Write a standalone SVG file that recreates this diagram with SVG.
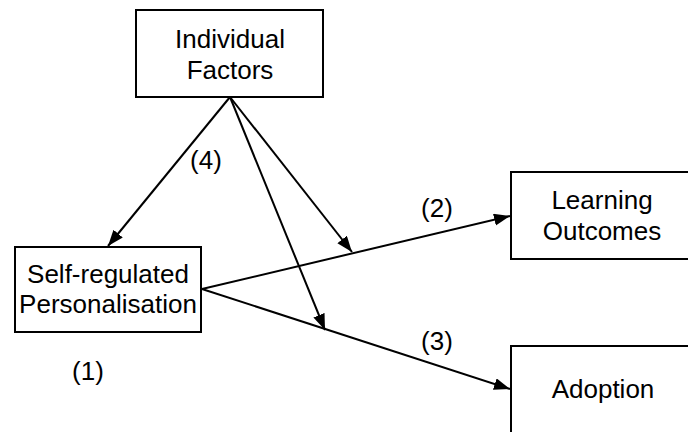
<svg xmlns="http://www.w3.org/2000/svg" width="688" height="432" viewBox="0 0 688 432">
<style>
.box{fill:#fff;stroke:#000;stroke-width:2}
.t{font-family:"Liberation Sans",Arial,sans-serif;font-size:26px;fill:#000;text-anchor:middle}
.c{stroke:#000;stroke-width:2;fill:none}
</style>
<defs>
<marker id="ah" markerUnits="userSpaceOnUse" markerWidth="18" markerHeight="14" refX="16" refY="6" orient="auto">
<path d="M0,0 L16,6 L0,12 z" fill="#000"/>
</marker>
</defs>
<rect width="688" height="432" fill="#fff"/>
<g id="connectors">
<line class="c" x1="230" y1="97" x2="108" y2="246" marker-end="url(#ah)"/>
<line class="c" x1="230" y1="97" x2="352" y2="252" marker-end="url(#ah)"/>
<line class="c" x1="230" y1="97" x2="325" y2="330" marker-end="url(#ah)"/>
<line class="c" x1="202" y1="289" x2="510" y2="216" marker-end="url(#ah)"/>
<line class="c" x1="202" y1="289" x2="510" y2="389" marker-end="url(#ah)"/>
</g>
<g id="individual-factors">
<rect class="box" x="136" y="10" width="187" height="87"/>
<text class="t" x="230" y="48">Individual</text>
<text class="t" x="230" y="79">Factors</text>
</g>
<g id="self-regulated">
<rect class="box" x="15" y="247" width="186" height="85"/>
<text class="t" x="108" y="283">Self-regulated</text>
<text class="t" x="108" y="313">Personalisation</text>
</g>
<g id="learning-outcomes">
<rect class="box" x="511" y="172" width="190" height="87"/>
<text class="t" x="602" y="209">Learning</text>
<text class="t" x="602" y="240">Outcomes</text>
</g>
<g id="adoption">
<rect class="box" x="511" y="346" width="190" height="100"/>
<text class="t" x="603" y="398">Adoption</text>
</g>
<g id="labels">
<text class="t" x="206" y="169">(4)</text>
<text class="t" x="437" y="217">(2)</text>
<text class="t" x="437" y="350">(3)</text>
<text class="t" x="88" y="380">(1)</text>
</g>
</svg>
